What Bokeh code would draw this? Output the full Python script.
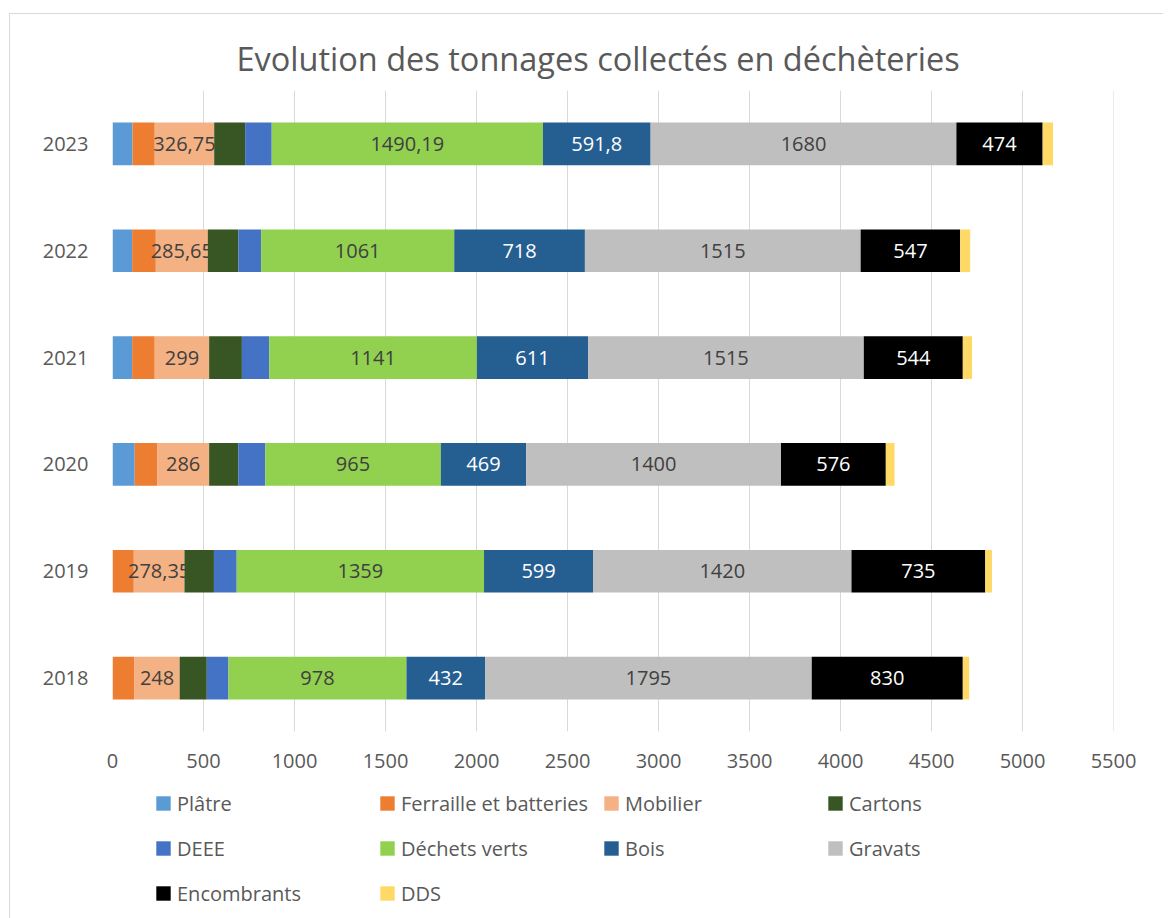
import numpy as np
from bokeh.plotting import figure
from bokeh.layouts import column
from bokeh.models import Legend, LegendItem, FixedTicker, Range1d, FactorRange, ColumnDataSource, Span
from bokeh.embed import file_html
from bokeh.resources import INLINE
from bokeh.core.properties import value

years = ["2018", "2019", "2020", "2021", "2022", "2023"]
platre = [0, 0, 122, 108, 108, 110]
ferraille = [121, 117, 123, 124, 130, 122]
mobilier = [248, 278.35, 286, 299, 285.65, 326.75]
cartons = [149, 162, 160, 180, 168, 170]
deee = [119, 125, 148, 150, 125, 146]
dechets_verts = [978, 1359, 965, 1141, 1061, 1490.19]
bois = [432, 599, 469, 611, 718, 591.8]
gravats = [1795, 1420, 1400, 1515, 1515, 1680]
encombrants = [830, 735, 576, 544, 547, 474]
dds = [35, 37, 48, 51, 55, 57]

series_names = ["Plâtre", "Ferraille et batteries", "Mobilier", "Cartons", "DEEE",
                "Déchets verts", "Bois", "Gravats", "Encombrants", "DDS"]
series_values = [platre, ferraille, mobilier, cartons, deee,
                 dechets_verts, bois, gravats, encombrants, dds]
colors = ["#5B9BD5", "#ED7D31", "#F4B183", "#375623", "#4472C4",
          "#92D050", "#255E91", "#BFBFBF", "#000000", "#FFD966"]
labeled = {"Mobilier": "#404040", "Déchets verts": "#404040", "Bois": "#FFFFFF",
           "Gravats": "#404040", "Encombrants": "#FFFFFF"}
x_ticks = list(range(0, 5501, 500))

FONT = "Open Sans"
GREY = "#595959"

p = figure(width=1153, height=768, output_backend="svg", toolbar_location=None,
           y_range=FactorRange(factors=years), x_range=Range1d(0, 5500),
           min_border_left=102, min_border_right=50, min_border_top=76,
           min_border_bottom=51)
p.title.text = "Evolution des tonnages collectés en déchèteries"
p.title.align = "left"
p.title.offset = 124
p.title.text_font = FONT
p.title.text_font_style = "normal"
p.title.text_font_size = "32.5px"
p.title.text_color = GREY
p.title.standoff = 20

p.outline_line_color = None
p.ygrid.grid_line_color = None
p.xgrid.grid_line_color = "#D9D9D9"
p.xgrid.grid_line_width = 1
p.xaxis.ticker = FixedTicker(ticks=x_ticks)
p.add_layout(Span(location=x_ticks[-1], dimension="height", line_color="#D9D9D9", line_width=1))

for ax in (p.xaxis, p.yaxis):
    ax.axis_line_color = None
    ax.major_tick_line_color = None
    ax.minor_tick_line_color = None
    ax.major_tick_out = 0
    ax.major_tick_in = 0
    ax.major_label_text_font = FONT
    ax.major_label_text_font_size = "20px"
    ax.major_label_text_color = GREY
p.xaxis.major_label_standoff = 22
p.yaxis.major_label_standoff = 24

# legend figure (below the chart); its frame is aligned with the chart's frame
lf = figure(width=1153, height=136, output_backend="svg", toolbar_location=None,
            x_range=Range1d(0, 1), y_range=Range1d(0, 1), min_border=0,
            x_axis_location=None, y_axis_location=None)
lf.grid.visible = False
lf.outline_line_color = None

items = []
left = [0.0] * len(years)
for name, vals, col in zip(series_names, series_values, colors):
    right = [l + v for l, v in zip(left, vals)]
    src = ColumnDataSource(dict(y=years, left=left, right=right))
    p.hbar(y="y", left="left", right="right", height=0.4, source=src,
           fill_color=col, line_color=None)
    dummy = ColumnDataSource(dict(y=np.array([np.nan]), left=np.array([np.nan]),
                                  right=np.array([np.nan])))
    lr = lf.hbar(y="y", left="left", right="right", height=0.4, source=dummy,
                 fill_color=col, line_color=None)
    items.append(LegendItem(label=name, renderers=[lr]))
    if name in labeled:
        mids = [(l + rr) / 2 for l, rr in zip(left, right)]
        txt = [f"{v:g}".replace(".", ",") for v in vals]
        p.text(x=mids, y=years, text=txt, text_align="center", text_baseline="middle",
               text_font=value(FONT), text_font_size="20px", text_color=labeled[name])
    left = right

legend = Legend(items=items, orientation="horizontal", ncols=4,
                location=(42, 5), glyph_width=18, glyph_height=18,
                label_standoff=5, label_width=196, label_height=40, spacing=5,
                padding=0, margin=0, border_line_color=None, background_fill_alpha=0,
                label_text_font=FONT, label_text_font_size="20px",
                label_text_color=GREY)
lf.add_layout(legend, "center")

layout = column(p, lf, spacing=0, margin=(13, 0, 0, 9),
                styles={"border-left": "1px solid #D9D9D9", "border-top": "1px solid #D9D9D9"})
open("out.html", "w").write(file_html(layout, INLINE))
